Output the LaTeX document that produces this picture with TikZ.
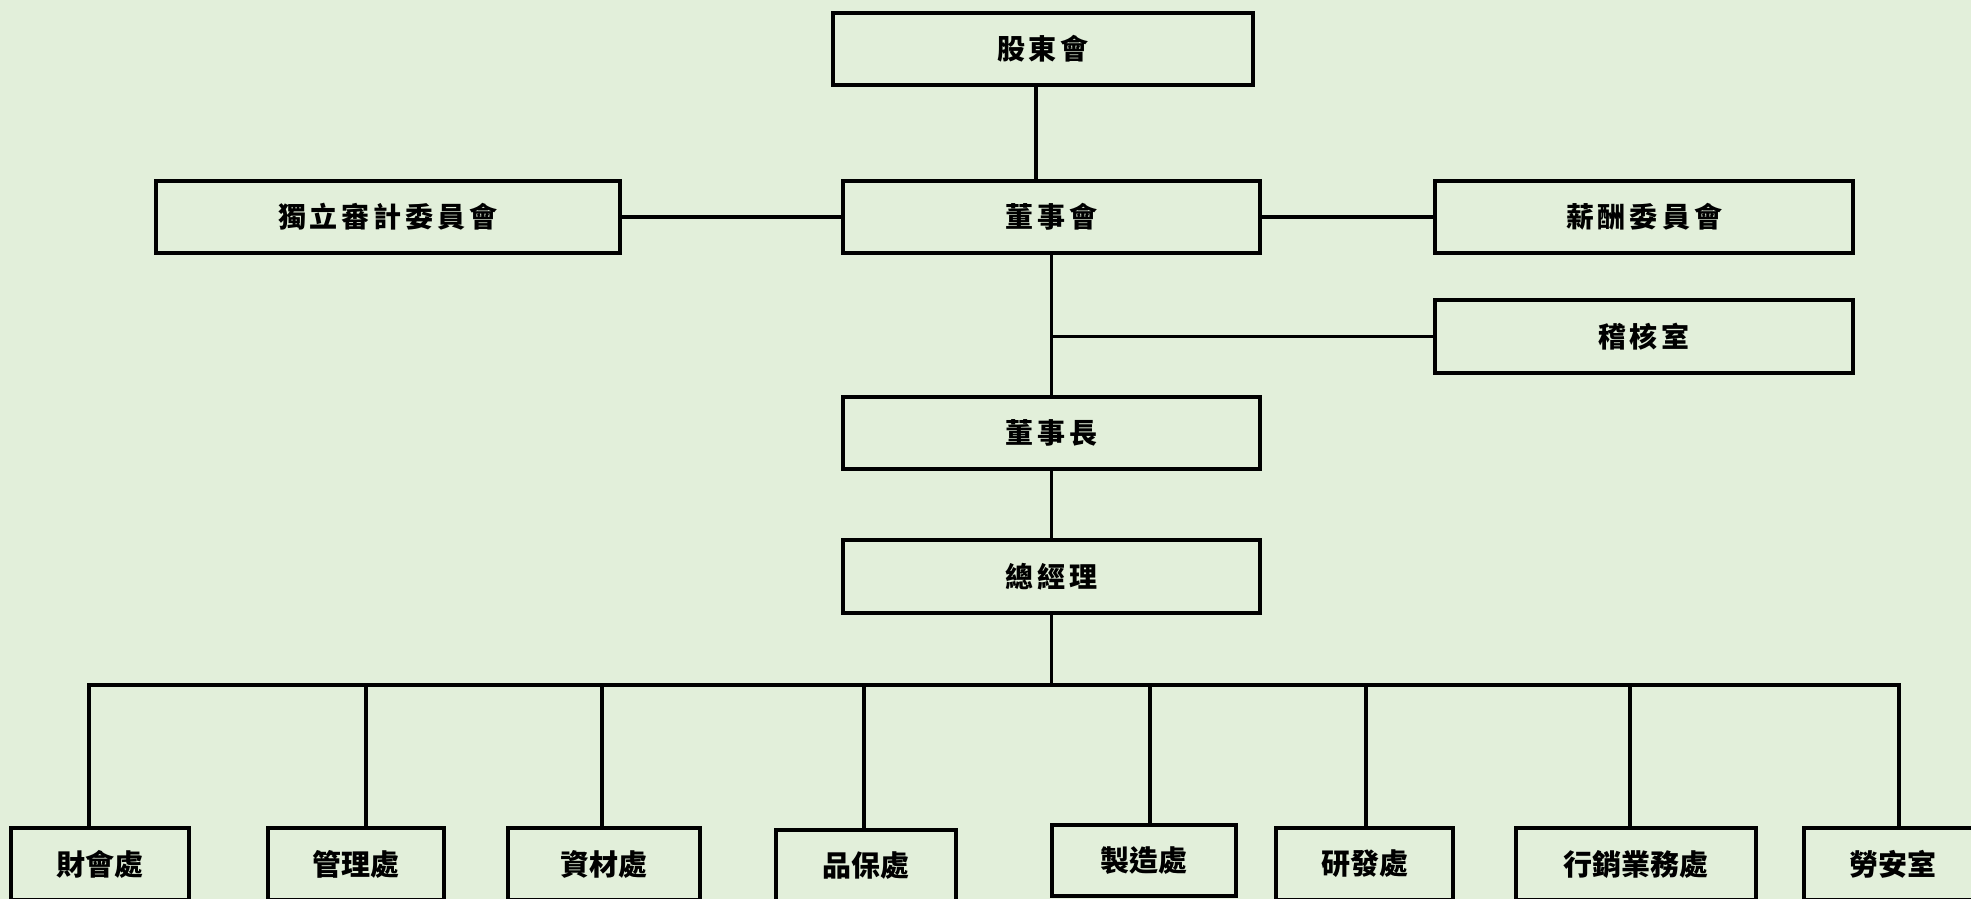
\documentclass[tikz,border=0pt]{standalone}
\usepackage{fontspec}
\newfontfamily\cjk{Noto Sans CJK TC}
\definecolor{bg}{HTML}{E2EFDA}
\newcommand{\gp}{\hspace{4pt}}
\begin{document}
\begin{tikzpicture}[x=1pt,y=-1pt,
  box/.style={draw, line width=3.3pt, rectangle, minimum height=72pt, inner sep=0pt,
    font=\cjk\bfseries\fontsize{28}{32}\selectfont},
  dept/.style={box, font=\cjk\bfseries\fontsize{29}{32}\selectfont},
  conn/.style={line width=3.3pt}]
\useasboundingbox (0,0) rectangle (1971,899);
\fill[bg] (0,0) rectangle (1971,899);
\clip (0,0) rectangle (1971,899);
% top structure
\node[box, minimum width=420pt] (gdh) at (1043,49) {股\gp 東\gp 會};
\node[box, minimum width=417pt] (dsh) at (1051.5,217) {董\gp 事\gp 會};
\node[box, minimum width=464pt] (audit) at (388,217) {獨\gp 立\gp 審\gp 計\gp 委\gp 員\gp 會};
\node[box, minimum width=418pt] (pay) at (1644,217) {薪\gp 酬\gp 委\gp 員\gp 會};
\node[box, minimum width=418pt, minimum height=73pt] (jhs) at (1644,336.5) {稽\gp 核\gp 室};
\node[box, minimum width=417pt] (dsz) at (1051.5,433) {董\gp 事\gp 長};
\node[box, minimum width=417pt, minimum height=73pt] (zjl) at (1051.5,576.5) {總\gp 經\gp 理};
% departments
\node[dept, minimum width=178pt] (b1) at (100,864) {財會處};
\node[dept, minimum width=176pt] (b2) at (356,864) {管理處};
\node[dept, minimum width=192pt] (b3) at (604,864) {資材處};
\node[dept, minimum width=180pt] (b4) at (866,866) {品保處};
\node[dept, minimum width=184pt, minimum height=71pt] (b5) at (1144,860.5) {製造處};
\node[dept, minimum width=177pt] (b6) at (1364.5,864) {研發處};
\node[dept, minimum width=240pt] (b7) at (1636,864) {行銷業務處};
\node[dept, minimum width=178pt] (b8) at (1893,864) {勞安室};
% connectors top
\coordinate (c0) at (1036,0);
\draw[conn] (gdh.south -| c0) -- (dsh.north -| c0);
\draw[conn] (audit.east) -- (dsh.west);
\draw[conn] (dsh.east) -- (pay.west);
\draw[conn] (dsh.south) -- (dsz.north);
\coordinate (jp) at (dsh.south |- jhs.west);
\draw[conn] (jp) -- (jhs.west);
\draw[conn] (dsz.south) -- (zjl.north);
% bus
\coordinate (t1) at (89,685);
\coordinate (t2) at (366,685);
\coordinate (t3) at (602,685);
\coordinate (t4) at (864,685);
\coordinate (t5) at (1150,685);
\coordinate (t6) at (1366,685);
\coordinate (t7) at (1630,685);
\coordinate (t8) at (1899,685);
\coordinate (tz) at (zjl.south |- t1);
\draw[conn] (zjl.south) -- (tz);
\draw[conn] ([xshift=-1.65pt]t1) -- ([xshift=1.65pt]t8);
\draw[conn] (t1) -- (t1 |- b1.north);
\draw[conn] (t2) -- (t2 |- b2.north);
\draw[conn] (t3) -- (t3 |- b3.north);
\draw[conn] (t4) -- (t4 |- b4.north);
\draw[conn] (t5) -- (t5 |- b5.north);
\draw[conn] (t6) -- (t6 |- b6.north);
\draw[conn] (t7) -- (t7 |- b7.north);
\draw[conn] (t8) -- (t8 |- b8.north);
\end{tikzpicture}
\end{document}
